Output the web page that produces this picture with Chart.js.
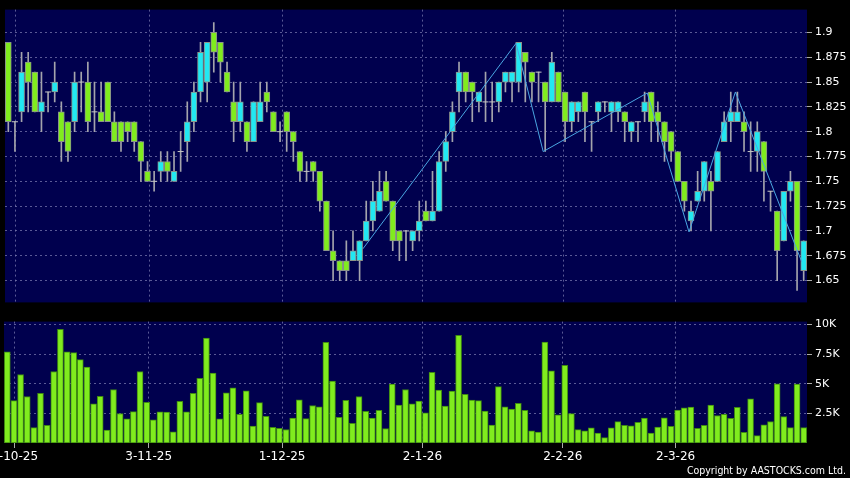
<!DOCTYPE html>
<html>
<head>
<meta charset="utf-8">
<title>Daily chart</title>
<script src="https://cdn.jsdelivr.net/npm/chart.js@4.4.1/dist/chart.umd.min.js"></script>
<style>
  html, body { margin: 0; padding: 0; background: #000; }
  #wrap { position: relative; width: 850px; height: 478px; overflow: hidden; background: #000; }
  #priceChart { position: absolute; left: 0; top: 0; }
  #volChart { position: absolute; left: 0; top: 312px; }
  #copy { position: absolute; right: 4px; top: 464px; color: #fff; font: 10.5px "DejaVu Sans Condensed", "DejaVu Sans", sans-serif; line-height: 13px; white-space: nowrap; }
</style>
</head>
<body>
<div id="wrap">
  <canvas id="priceChart" width="850" height="312"></canvas>
  <canvas id="volChart" width="850" height="166"></canvas>
  <div id="copy">Copyright by AASTOCKS.com Ltd.</div>
</div>
<script>
"use strict";
// daily candles, oldest first (index 0 .. 120)
const opens = [
  1.89, 1.81, 1.82, 1.87, 1.86, 1.82, 1.84, 1.84, 1.82, 1.81,
  1.81, 1.85, 1.85, 1.82, 1.82, 1.85, 1.81, 1.81, 1.81, 1.81,
  1.79, 1.76, 1.75, 1.76, 1.77, 1.75, 1.78, 1.79, 1.81, 1.84,
  1.85, 1.90, 1.89, 1.86, 1.83, 1.81, 1.81, 1.79, 1.81, 1.84,
  1.82, 1.80, 1.82, 1.80, 1.78, 1.76, 1.77, 1.76, 1.73, 1.68,
  1.67, 1.67, 1.67, 1.67, 1.69, 1.71, 1.72, 1.75, 1.73, 1.70,
  1.70, 1.69, 1.70, 1.72, 1.71, 1.72, 1.77, 1.80, 1.84, 1.86,
  1.85, 1.83, 1.83, 1.83, 1.83, 1.85, 1.85, 1.85, 1.88, 1.86,
  1.86, 1.85, 1.83, 1.86, 1.84, 1.81, 1.82, 1.84, 1.81, 1.82,
  1.83, 1.82, 1.82, 1.82, 1.80, 1.81, 1.82, 1.84, 1.82, 1.81,
  1.80, 1.78, 1.75, 1.71, 1.73, 1.74, 1.75, 1.75, 1.79, 1.81,
  1.81, 1.81, 1.78, 1.78, 1.79, 1.74, 1.72, 1.69, 1.74, 1.75, 1.66
];
const highs = [
  1.89, 1.81, 1.88, 1.88, 1.86, 1.86, 1.84, 1.87, 1.83, 1.81,
  1.86, 1.86, 1.87, 1.85, 1.85, 1.85, 1.82, 1.81, 1.81, 1.81,
  1.79, 1.77, 1.76, 1.78, 1.78, 1.78, 1.80, 1.83, 1.85, 1.89,
  1.89, 1.91, 1.89, 1.87, 1.85, 1.85, 1.81, 1.83, 1.85, 1.85,
  1.82, 1.81, 1.82, 1.80, 1.78, 1.77, 1.77, 1.76, 1.73, 1.70,
  1.67, 1.69, 1.70, 1.69, 1.73, 1.75, 1.76, 1.76, 1.73, 1.70,
  1.70, 1.70, 1.73, 1.73, 1.76, 1.78, 1.80, 1.83, 1.87, 1.86,
  1.85, 1.84, 1.86, 1.85, 1.85, 1.86, 1.86, 1.89, 1.88, 1.86,
  1.86, 1.85, 1.88, 1.86, 1.84, 1.83, 1.83, 1.84, 1.81, 1.83,
  1.83, 1.83, 1.83, 1.82, 1.81, 1.81, 1.84, 1.84, 1.83, 1.81,
  1.80, 1.78, 1.75, 1.73, 1.76, 1.77, 1.76, 1.78, 1.82, 1.84,
  1.84, 1.82, 1.81, 1.81, 1.79, 1.74, 1.72, 1.74, 1.76, 1.75, 1.69
];
const lows = [
  1.80, 1.78, 1.81, 1.82, 1.82, 1.80, 1.82, 1.83, 1.77, 1.77,
  1.80, 1.82, 1.80, 1.80, 1.81, 1.81, 1.79, 1.78, 1.79, 1.78,
  1.75, 1.75, 1.74, 1.75, 1.75, 1.75, 1.76, 1.77, 1.80, 1.83,
  1.83, 1.86, 1.85, 1.84, 1.79, 1.80, 1.78, 1.79, 1.81, 1.82,
  1.80, 1.79, 1.78, 1.77, 1.75, 1.75, 1.75, 1.72, 1.68, 1.65,
  1.65, 1.65, 1.67, 1.65, 1.69, 1.70, 1.72, 1.73, 1.68, 1.67,
  1.67, 1.68, 1.69, 1.71, 1.71, 1.72, 1.76, 1.79, 1.82, 1.83,
  1.81, 1.82, 1.81, 1.81, 1.82, 1.84, 1.83, 1.84, 1.83, 1.83,
  1.83, 1.78, 1.83, 1.83, 1.79, 1.80, 1.81, 1.79, 1.78, 1.81,
  1.82, 1.80, 1.81, 1.79, 1.79, 1.79, 1.81, 1.79, 1.79, 1.77,
  1.77, 1.75, 1.72, 1.70, 1.73, 1.73, 1.70, 1.75, 1.79, 1.79,
  1.81, 1.78, 1.76, 1.76, 1.73, 1.72, 1.65, 1.69, 1.73, 1.64, 1.65
];
const closes = [
  1.81, 1.81, 1.86, 1.85, 1.82, 1.83, 1.84, 1.85, 1.79, 1.78,
  1.85, 1.85, 1.81, 1.82, 1.81, 1.81, 1.79, 1.79, 1.80, 1.79,
  1.77, 1.75, 1.75, 1.77, 1.76, 1.76, 1.78, 1.81, 1.84, 1.88,
  1.89, 1.88, 1.87, 1.84, 1.81, 1.83, 1.79, 1.83, 1.83, 1.83,
  1.80, 1.80, 1.80, 1.79, 1.76, 1.76, 1.76, 1.73, 1.68, 1.67,
  1.66, 1.66, 1.68, 1.69, 1.71, 1.73, 1.74, 1.73, 1.69, 1.69,
  1.70, 1.70, 1.71, 1.71, 1.72, 1.77, 1.79, 1.82, 1.86, 1.84,
  1.84, 1.84, 1.83, 1.83, 1.85, 1.86, 1.86, 1.89, 1.87, 1.85,
  1.86, 1.83, 1.87, 1.83, 1.81, 1.83, 1.83, 1.82, 1.81, 1.83,
  1.83, 1.83, 1.83, 1.81, 1.81, 1.81, 1.83, 1.81, 1.81, 1.79,
  1.78, 1.75, 1.73, 1.72, 1.74, 1.77, 1.74, 1.78, 1.81, 1.82,
  1.82, 1.80, 1.78, 1.80, 1.76, 1.74, 1.68, 1.74, 1.75, 1.68, 1.69
];
// daily volume (shares)
const volumes = [
  7700, 3570, 5780, 3920, 1300, 4190, 1490, 6030, 9590, 7700,
  7620, 7030, 6410, 3310, 3930, 1080, 4510, 2490, 2030, 2650,
  6030, 3430, 1950, 2620, 2600, 950, 3510, 2620, 4190, 5460,
  8840, 5890, 2030, 4240, 4650, 2410, 4410, 1430, 3410, 2240,
  1320, 1240, 1140, 2110, 3640, 2050, 3160, 3050, 8490, 5220,
  2160, 3590, 1650, 3920, 2680, 2110, 2760, 1220, 4970, 3190,
  4510, 3300, 3540, 2540, 5970, 4460, 3110, 4380, 9080, 4110,
  3620, 3570, 2700, 1510, 4760, 3050, 2860, 3350, 2760, 1030,
  920, 8510, 6080, 2380, 6550, 2480, 1130, 1020, 1290, 830,
  460, 1290, 1800, 1480, 1450, 1750, 2100, 830, 1340, 2120,
  1400, 2770, 2960, 3040, 1230, 1490, 3190, 2320, 2410, 2080,
  3000, 890, 3730, 620, 1540, 1810, 5000, 2220, 1300, 4970, 1300
];
// zigzag trend line: candle position and price of each turn
const zigzagIdx = [53.5, 76.6, 80.7, 96.4, 102.7, 109.7, 119.7];
const zigzagVal = [1.682, 1.889, 1.78, 1.839, 1.699, 1.84, 1.669];

// axis ticks
const dateTickIdx = [1.1, 21.3, 41.4, 62.55, 83.7, 100.7];
const dateTickLabels = ["2-10-25", "3-11-25", "1-12-25", "2-1-26", "2-2-26", "2-3-26"];
const priceTicks = [1.65, 1.675, 1.7, 1.725, 1.75, 1.775, 1.8, 1.825, 1.85, 1.875, 1.9];
const volumeTicks = [2500, 5000, 7500, 10000];

// colours
const upColor = "#22e8f2";
const downColor = "#80ec1e";
const plotColor = "#00004e";
const gridColor = "rgba(120, 120, 175, 0.75)";
const labelFont = { family: "DejaVu Sans", size: 11 };
const dateFont = { family: "DejaVu Sans", size: 12 };

// fill the plot area navy before grid and data
const plotBg = {
  id: "plotBg",
  beforeDraw(chart) {
    const a = chart.chartArea;
    const ctx = chart.ctx;
    ctx.save();
    ctx.fillStyle = plotColor;
    ctx.fillRect(a.left, a.top, a.right - a.left, a.bottom - a.top);
    ctx.restore();
  }
};

const xAxis = function (showLabels) {
  return {
    type: "linear",
    offset: false,
    min: -0.5,
    max: 120.5,
    afterBuildTicks: function (scale) {
      scale.ticks = dateTickIdx.map((v) => ({ value: v }));
    },
    afterFit: function (scale) {
      // keep both panels on the same x mapping, let the first label run off the edge
      scale.height = showLabels ? 35 : 0;
      scale.paddingLeft = 0;
      scale.paddingRight = 0;
    },
    ticks: {
      display: showLabels,
      autoSkip: false,
      maxRotation: 0,
      color: "#fff",
      font: dateFont,
      padding: 2,
      callback: (v, i) => dateTickLabels[i]
    },
    grid: {
      offset: false,
      color: gridColor,
      drawTicks: showLabels,
      tickLength: 5,
      tickColor: "#aaa",
      tickBorderDash: []
    },
    border: { display: false, dash: [2, 3] }
  };
};

const isUp = (i) => closes[i] >= opens[i];
const days = closes.map((c, i) => i);

const wickData = days.map((i) => ({ x: i, y: [lows[i], highs[i]] }));
const bodyData = days
  .filter((i) => opens[i] !== closes[i])
  .map((i) => ({ x: i, y: [Math.min(opens[i], closes[i]), Math.max(opens[i], closes[i])] }));
const dojiData = days
  .filter((i) => opens[i] === closes[i])
  .map((i) => ({ x: i, y: closes[i] }));
const zigzagData = zigzagIdx.map((x, k) => ({ x: x, y: zigzagVal[k] }));

new Chart(document.getElementById("priceChart"), {
  type: "bar",
  data: {
    datasets: [
      {
        label: "wick",
        data: wickData,
        grouped: false,
        barThickness: 1,
        backgroundColor: "#a4a4ac",
        borderWidth: 0,
        order: 3
      },
      {
        label: "body",
        data: bodyData,
        grouped: false,
        barThickness: 6,
        backgroundColor: (ctx) => (ctx.raw && isUp(ctx.raw.x) ? upColor : downColor),
        borderColor: "#8a948a",
        borderWidth: 1,
        borderSkipped: false,
        order: 2
      },
      {
        type: "line",
        label: "doji",
        data: dojiData,
        showLine: false,
        pointStyle: "line",
        pointRadius: 3,
        pointBorderColor: "#c4c4c4",
        pointBorderWidth: 1,
        order: 1
      },
      {
        type: "line",
        label: "zigzag",
        data: zigzagData,
        borderColor: "#4aa6e2",
        borderWidth: 1,
        pointRadius: 0,
        fill: false,
        tension: 0,
        order: 0
      }
    ]
  },
  options: {
    responsive: false,
    animation: false,
    events: [],
    layout: { padding: { left: 4, top: 6, bottom: 7, right: 0 } },
    plugins: { legend: { display: false }, tooltip: { enabled: false } },
    scales: {
      x: xAxis(false),
      y: {
        position: "right",
        min: 1.628,
        max: 1.923,
        afterBuildTicks: function (scale) {
          scale.ticks = priceTicks.map((v) => ({ value: v }));
        },
        afterFit: function (scale) {
          scale.width = 43;
        },
        ticks: {
          color: "#fff",
          font: labelFont,
          padding: 3,
          callback: (v) => String(+v.toFixed(3))
        },
        grid: { color: gridColor, tickLength: 5, tickColor: "#aaa", tickBorderDash: [] },
        border: { display: false, dash: [2, 3] }
      }
    }
  },
  plugins: [plotBg]
});

new Chart(document.getElementById("volChart"), {
  type: "bar",
  data: {
    datasets: [
      {
        label: "volume",
        data: days.map((i) => ({ x: i, y: volumes[i] })),
        barThickness: 6,
        backgroundColor: downColor,
        borderColor: "#3f8a12",
        borderWidth: 1,
        borderSkipped: false
      }
    ]
  },
  options: {
    responsive: false,
    animation: false,
    events: [],
    layout: { padding: { left: 4, top: 5, bottom: 0, right: 0 } },
    plugins: { legend: { display: false }, tooltip: { enabled: false } },
    scales: {
      x: xAxis(true),
      y: {
        position: "right",
        min: 0,
        max: 10240,
        afterBuildTicks: function (scale) {
          scale.ticks = volumeTicks.map((v) => ({ value: v }));
        },
        afterFit: function (scale) {
          scale.width = 43;
        },
        ticks: {
          color: "#fff",
          font: labelFont,
          padding: 3,
          callback: (v) => v / 1000 + "K"
        },
        grid: { color: gridColor, tickLength: 5, tickColor: "#aaa", tickBorderDash: [] },
        border: { display: false, dash: [2, 3] }
      }
    }
  },
  plugins: [plotBg]
});
</script>
</body>
</html>
